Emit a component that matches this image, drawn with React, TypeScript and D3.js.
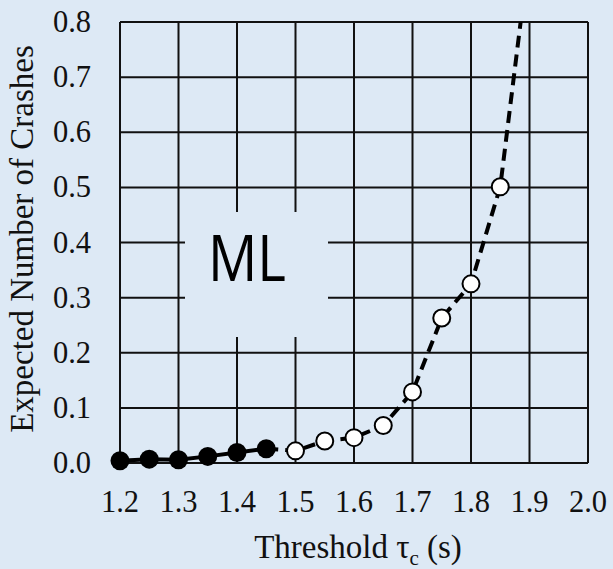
import React from "react";
import * as d3 from "d3";

const filledX = [1.2, 1.25, 1.3, 1.35, 1.4, 1.45];
const filledY = [0.004, 0.007, 0.006, 0.012, 0.019, 0.026];
const openX = [1.5, 1.55, 1.6, 1.65, 1.7, 1.75, 1.8, 1.85, 1.9];
const openY = [0.022, 0.04, 0.046, 0.068, 0.129, 0.263, 0.325, 0.501, 0.93];
const xTicks = [1.2, 1.3, 1.4, 1.5, 1.6, 1.7, 1.8, 1.9, 2.0];
const yTicks = [0, 0.1, 0.2, 0.3, 0.4, 0.5, 0.6, 0.7, 0.8];

const BG = "#dde9f5";
const W = 613, H = 569;
const L = 120, R = 588, T = 22, B = 463;

export default function App() {
  const x = d3.scaleLinear().domain([1.2, 2.0]).range([L, R]);
  const y = d3.scaleLinear().domain([0, 0.8]).range([B, T]);
  const line = d3.line<[number, number]>().x(d => x(d[0])).y(d => y(d[1]));
  const filled: [number, number][] = filledX.map((v, i) => [v, filledY[i]]);
  const open: [number, number][] = openX.map((v, i) => [v, openY[i]]);
  const dashed: [number, number][] = [filled[filled.length - 1], ...open];
  const serif = "'Liberation Serif', 'Times New Roman', serif";
  return (
    <svg width={W} height={H} style={{ position: "absolute", left: 0, top: 0, background: BG }}>
      <defs>
        <clipPath id="plot">
          <rect x={L} y={T} width={R - L} height={B - T} />
        </clipPath>
      </defs>
      <rect x={0} y={0} width={W} height={H} fill={BG} />
      {xTicks.map(t => (
        <line key={"gx" + t} x1={x(t)} x2={x(t)} y1={T} y2={B} stroke="#111" strokeWidth={2} />
      ))}
      {yTicks.map(t => (
        <line key={"gy" + t} x1={L} x2={R} y1={y(t)} y2={y(t)} stroke="#111" strokeWidth={2} />
      ))}
      <rect x={185} y={212} width={143} height={125} fill={BG} />
      <text x={208} y={281} fontFamily="'Open Sans', sans-serif" fontSize={64} textLength={78} lengthAdjust="spacingAndGlyphs" fill="#000">ML</text>
      <g clipPath="url(#plot)">
        <path d={line(filled) || ""} fill="none" stroke="#000" strokeWidth={4} />
        <path d={line(dashed) || ""} fill="none" stroke="#000" strokeWidth={4} strokeDasharray="12,7" />
      </g>
      {filled.map((d, i) => (
        <circle key={"f" + i} cx={x(d[0])} cy={y(d[1])} r={9.5} fill="#000" />
      ))}
      {open.filter(d => d[1] <= 0.8).map((d, i) => (
        <circle key={"o" + i} cx={x(d[0])} cy={y(d[1])} r={8.5} fill="#fff" stroke="#000" strokeWidth={2} />
      ))}
      {yTicks.map(t => (
        <text key={"yl" + t} x={91} y={y(t) + 10} textAnchor="end" fontFamily={serif} fontSize={30.5} fill="#111">{t.toFixed(1)}</text>
      ))}
      {xTicks.map(t => (
        <text key={"xl" + t} x={x(t)} y={512} textAnchor="middle" fontFamily={serif} fontSize={30.5} fill="#111">{t.toFixed(1)}</text>
      ))}
      <text x={358} y={558} textAnchor="middle" fontFamily={serif} fontSize={33} fill="#111">
        Threshold τ<tspan fontSize={21} dy={7}>c</tspan><tspan dy={-7}> (s)</tspan>
      </text>
      <text transform={`translate(33, 239) rotate(-90)`} textAnchor="middle" fontFamily={serif} fontSize={33} fill="#111">
        Expected Number of Crashes
      </text>
    </svg>
  );
}
